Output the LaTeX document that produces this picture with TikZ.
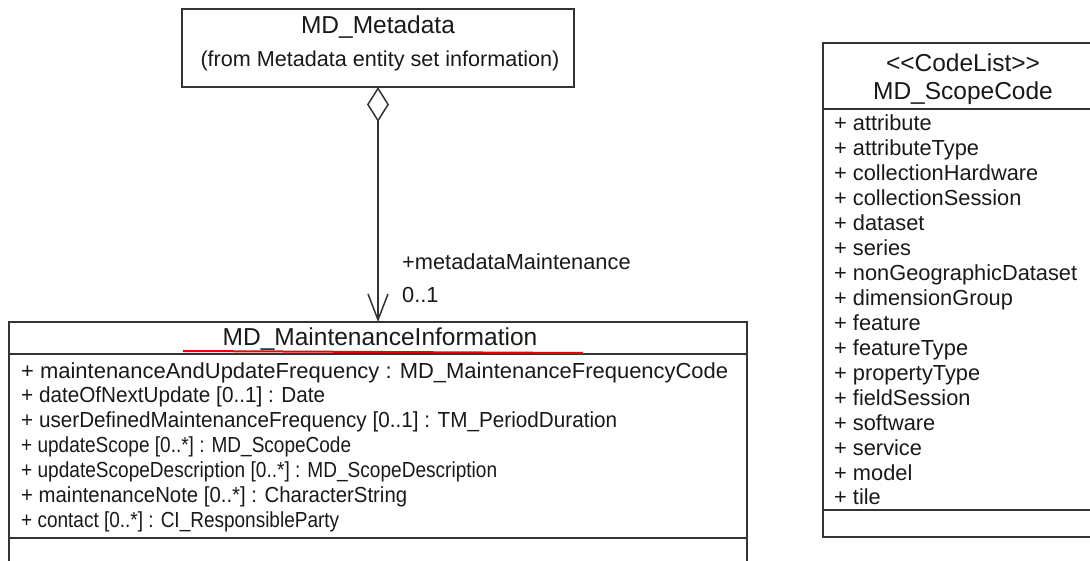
\documentclass[tikz,border=0pt]{standalone}
\usepackage{fontspec}
\setmainfont{Liberation Sans}
\usetikzlibrary{arrows.meta}

\newcommand\umltitle{\fontsize{24.5}{28}\selectfont}
\newcommand\umlbody{\fontsize{21.8}{24.9}\selectfont}
\definecolor{linegray}{gray}{0.2}
\definecolor{txtgray}{gray}{0.1}
\definecolor{markred}{RGB}{235,0,0}

\tikzset{
  frame/.style={draw=linegray, line width=1.6pt},
  area/.style={rectangle, inner sep=0pt, outer sep=0pt},
  titletxt/.style={anchor=base, inner sep=0pt, font=\umltitle, text=txtgray},
  itemtxt/.style={anchor=base west, inner sep=0pt, font=\umlbody, text=txtgray},
  conn/.style={draw=linegray, line width=1.5pt},
}

\begin{document}
\begin{tikzpicture}[x=1pt, y=-1pt]
\useasboundingbox (0,0) rectangle (1090,561);
\clip (0,0) rectangle (1090,561);

% ---------- MD_Metadata ----------
\node[area, frame, fill=white, minimum width=392pt, minimum height=78pt, anchor=north]
  (meta) at (378,9) {};
\node[titletxt] (metaname) at (378,34) {MD\_Metadata};
\node[titletxt, font=\fontsize{21.6}{24}\selectfont] (metafrom) at (380,67)
  {(from Metadata entity set information)};

% ---------- MD_MaintenanceInformation ----------
\node[area, minimum width=738pt, minimum height=32pt, anchor=north west]
  (maint) at (9,322) {};
\draw[frame] (9,600) |- (747,322) -- (747,600);
\draw[frame] (9,354) -- (747,354);
\draw[frame] (9,538) -- (747,538);
\node[titletxt] (maintname) at (380,345) {MD\_MaintenanceInformation};
\draw[markred, line width=2pt] (183,351) -- (583,353);

% attribute rows: target width / text
\foreach [count=\k] \w/\t in {
  707/{+ maintenanceAndUpdateFrequency : MD\_MaintenanceFrequencyCode},
  304/{+ dateOfNextUpdate [0..1] : Date},
  596/{+ userDefinedMaintenanceFrequency [0..1] : TM\_PeriodDuration},
  330/{+ updateScope [0..*] : MD\_ScopeCode},
  476/{+ updateScopeDescription [0..*] : MD\_ScopeDescription},
  386/{+ maintenanceNote [0..*] : CharacterString},
  318/{+ contact [0..*] : CI\_ResponsibleParty}}
  \node[itemtxt] (mattr\k) at (21,{378+(\k-1)*24.9})
    {\resizebox{\w pt}{\height}{\t}};

% ---------- MD_ScopeCode ----------
\node[area, minimum width=280pt, minimum height=66pt, anchor=north west]
  (scope) at (823,43) {};
\draw[frame] (823,43) rectangle (1103,537);
\draw[frame] (823,109) -- (1103,109);
\draw[frame] (823,510) -- (1103,510);
\node[titletxt] (scopestereo) at (963,72) {<{}<CodeList>{}>};
\node[titletxt] (scopename) at (963,100) {MD\_ScopeCode};

\foreach [count=\k] \t in {attribute, attributeType, collectionHardware,
  collectionSession, dataset, series, nonGeographicDataset, dimensionGroup,
  feature, featureType, propertyType, fieldSession, software, service,
  model, tile}
  \node[itemtxt] (sattr\k) at (834,{131+(\k-1)*24.93}) {+ \t};

% ---------- aggregation ----------
\draw[conn, {Diamond[open, length=35pt, width=22pt]}-{Straight Barb[length=26pt, width=20pt]}]
  (meta.south) -- (maint.north);
\node[itemtxt] (role) at (402,270) {+metadataMaintenance};
\node[itemtxt] (mult) at (402,303) {0..1};

\end{tikzpicture}
\end{document}
